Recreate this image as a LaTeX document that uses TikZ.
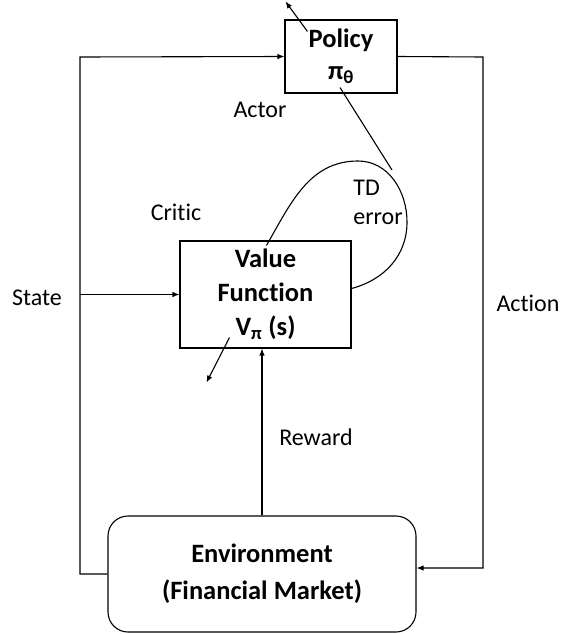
\documentclass[tikz,border=0pt]{standalone}
\usepackage{fontspec}
\setmainfont{Carlito}[Ligatures=NoCommon]
\usetikzlibrary{arrows.meta, calc}

\begin{document}
\begin{tikzpicture}[
  x=1pt, y=-1pt,
  line width=1.1pt,
  blk/.style={rectangle, draw, align=center, inner sep=0pt,
              font=\fontsize{26.5}{34}\selectfont\bfseries},
  lbl/.style={inner sep=0pt, align=left, font=\fontsize{24}{29}\selectfont},
  arr/.style={-{Latex[length=7pt, width=5.5pt]}},
]
  \useasboundingbox (0,0) rectangle (561,634);

  % Actor, critic and environment
  \node[blk, minimum width=112pt, minimum height=73pt,
        font=\fontsize{26.5}{32}\selectfont\bfseries] (policy) at (341,56.5)
        {Policy\\π\textsubscript{θ}};
  \node[blk, minimum width=171pt, minimum height=107pt] (value) at (265.5,294.5)
        {Value\\Function\\V\textsubscript{π} (s)};
  \node[blk, minimum width=308pt, minimum height=116pt, rounded corners=20pt,
        font=\fontsize{26.5}{37}\selectfont\bfseries] (env) at (262,574)
        {Environment\\(Financial Market)};

  % Labels
  \node[lbl] (actor) at (260,110) {Actor};
  \node[lbl] (critic) at (176,212) {Critic};
  \node[lbl] (tderr) at (378,202) {TD\\error};
  \node[lbl] (state) at (37,298) {State};
  \node[lbl] (action) at (528,303) {Action};
  \node[lbl] (reward) at (316,437) {Reward};

  % Loop lines
  \coordinate (lft) at (80,57);
  \coordinate (rgt) at (483,57);
  \draw[arr] (env.west) -- (env.west -| lft) -- (lft) -- (policy.west);
  \draw[arr] (value.west -| lft) -- (value.west);
  \draw[arr] (policy.east) -- (rgt) |- ([yshift=6pt]env.east);
  \draw[arr] (env.north) -- (env.north |- value.south);

  % Outputs of actor and critic
  \draw[arr] ($(policy.north west)+(23,12)$) -- ++(-22,-30);
  \draw[arr] ($(value.south west)+(50,-11)$) -- ++(-23,45);

  % TD error feedback
  \coordinate (tdtop) at (358,161);
  \coordinate (tdrgt) at (407,222);
  \draw ($(value.north west)+(87,5)$) to[out=60,in=180] (tdtop)
        to[out=0,in=90] (tdrgt) to[out=-90,in=15] ($(value.east)+(0,-6)$);
  \draw ($(policy.south)+(-1,-6)$) -- (392,170);
\end{tikzpicture}
\end{document}
